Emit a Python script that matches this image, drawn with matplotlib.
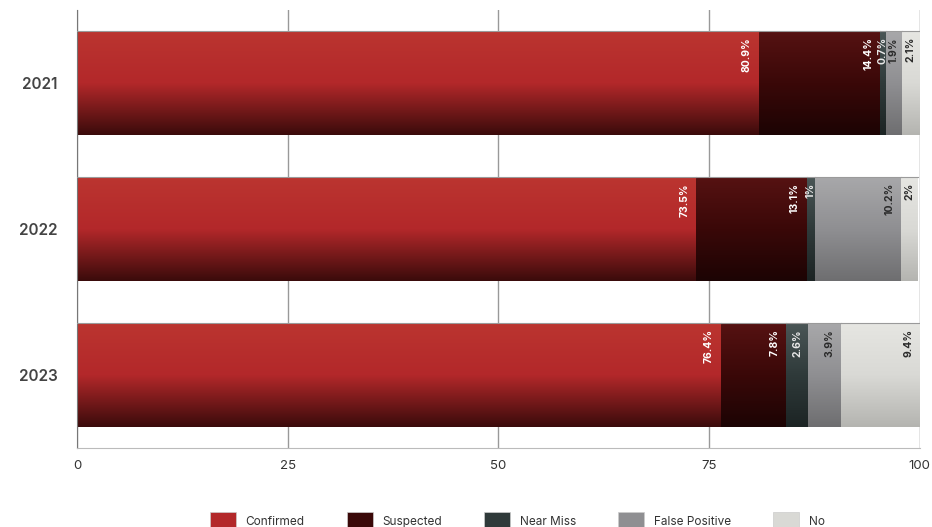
import matplotlib.pyplot as plt
import numpy as np
from matplotlib.colors import LinearSegmentedColormap, to_rgb
from matplotlib.patches import Patch

plt.rcParams['font.family'] = ['Inter', 'DejaVu Sans']

# ---- data ----
years = ['2021', '2022', '2023']
categories = ['Confirmed', 'Suspected', 'Near Miss', 'False Positive', 'No']
confirmed = [80.9, 73.5, 76.4]
suspected = [14.4, 13.1, 7.8]
near_miss = [0.7, 1.0, 2.6]
false_pos = [1.9, 10.2, 3.9]
no_vals = [2.1, 2.0, 9.4]
series = [confirmed, suspected, near_miss, false_pos, no_vals]

# ---- style ----
base_colors = ['#b3282a', '#3a0808', '#2f3a3a', '#8f8f92', '#d9d9d5']
top_colors = ['#bb3530', '#561212', '#4a5656', '#a8a8aa', '#e6e6e2']
bot_colors = ['#3a0b0b', '#1c0404', '#1c2424', '#6e6e70', '#b4b4b0']
text_colors = ['white', 'white', '#e8e8e8', '#2a2a2a', '#2a2a2a']

fig = plt.figure(figsize=(9.32, 5.27), dpi=100)
ax = fig.add_axes([0.0826, 0.15, 0.904, 0.831])

y = np.arange(len(years))
bar_h = 0.71
left = np.zeros(len(years))
grad = np.linspace(0, 1, 256).reshape(-1, 1)

for i, vals in enumerate(series):
    bars = ax.barh(y, vals, left=left, height=bar_h, color=base_colors[i],
                   edgecolor='none', zorder=2, label=categories[i])
    cmap = LinearSegmentedColormap.from_list(
        'g%d' % i, [to_rgb(top_colors[i]), to_rgb(base_colors[i]), to_rgb(bot_colors[i])])
    for b, v in zip(bars, vals):
        x0, y0 = b.get_x(), b.get_y()
        w, h = b.get_width(), b.get_height()
        ax.imshow(grad, extent=[x0, x0 + w, y0 + h, y0], aspect='auto',
                  cmap=cmap, zorder=2.5, interpolation='bilinear')
        ax.plot([x0, x0 + w], [y0, y0], color='#9a9a9a', lw=0.8, zorder=3)
        if w < 3:
            tx, ha = x0 + w / 2, 'center'
        else:
            tx, ha = x0 + w - 0.8, 'right'
        ax.text(tx, y0 + 0.04, f'{v:g}%', rotation=90,
                ha=ha, va='top', fontsize=7.5, fontweight='bold',
                color=text_colors[i], zorder=4)
    left = left + np.array(vals)

ax.set_xlim(0, 100)
ax.set_ylim(2.5, -0.5)
ax.set_xticks([0, 25, 50, 75, 100])
ax.set_yticks(y)
ax.set_yticklabels(years, fontsize=11, color='#444444', fontweight='semibold')
ax.tick_params(axis='x', labelsize=9.5, colors='#333333', length=0, pad=9)
ax.tick_params(axis='y', length=0, pad=14)
ax.grid(axis='x', color='#999999', lw=1.0, zorder=0)
ax.set_axisbelow(True)
for s in ['top', 'right']:
    ax.spines[s].set_visible(False)
ax.spines['left'].set_color('#777777')
ax.spines['bottom'].set_color('#bbbbbb')
ax.axvline(100, color='#dddddd', lw=1, zorder=0)

handles = [Patch(facecolor=c, edgecolor='#cccccc', lw=0.5) for c in base_colors]
fig.legend(handles, categories, loc='lower center', ncol=5, frameon=False,
           bbox_to_anchor=(0.555, -0.025), fontsize=8.5, handlelength=2.2,
           handleheight=1.9, columnspacing=3.6, handletextpad=0.8,
           labelcolor='#333333')

fig.savefig('out.png', dpi=100)
